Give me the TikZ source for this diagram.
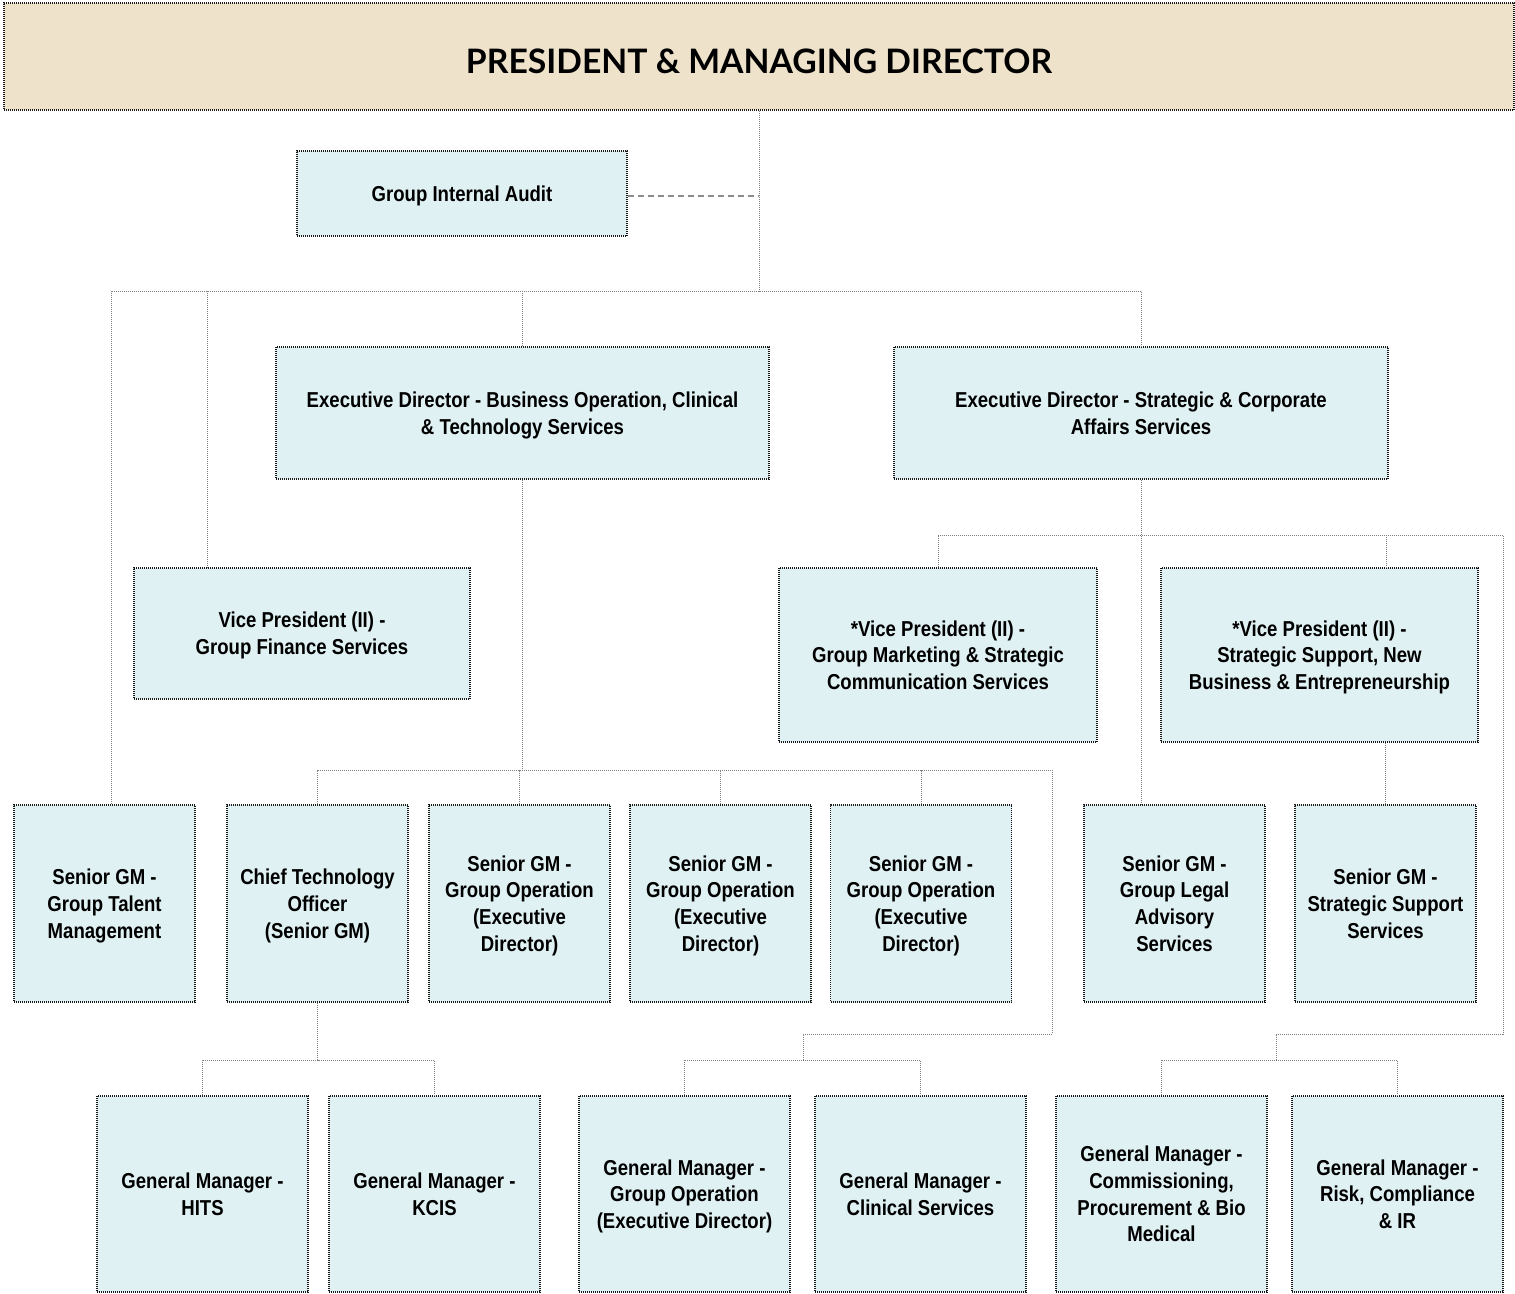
\documentclass[tikz,border=0pt]{standalone}
\usepackage{fontspec}
\setmainfont{Liberation Sans}[FakeStretch=0.86]
\newfontfamily\titlefont{Lato}
\definecolor{beigebg}{HTML}{EEE2CB}
\definecolor{cyanbg}{HTML}{E0F1F3}
\begin{document}
\begin{tikzpicture}[x=1pt,y=-1pt,line join=miter,
  box/.style={draw=black!90,fill=cyanbg,dash pattern=on 1pt off 1pt,line width=1.3pt,
    align=center,inner sep=0pt,text depth=-2pt,font=\fontsize{21.6}{26.7}\selectfont\bfseries},
  topbox/.style={box,fill=beigebg,text height=33pt,text depth=0pt,
    font=\titlefont\fontsize{33.7}{38}\selectfont\bfseries},
  rowthree/.style={box,minimum width=181,minimum height=197},
  rowfour/.style={box,minimum width=211,minimum height=196},
  conn/.style={draw=black!50,dash pattern=on 1pt off 1pt,line width=1pt},
  audline/.style={draw=black!45,dash pattern=on 6pt off 4pt,line width=1.3pt}]
  \useasboundingbox (0,0) rectangle (1515,1293);
  % top levels
  \node[topbox,minimum width=1510,minimum height=107] (pmd) at (759,56.5) {PRESIDENT \& MANAGING DIRECTOR};
  \node[box,minimum width=330,minimum height=85] (audit) at (462,193.5) {Group Internal Audit};
  \node[box,minimum width=493,minimum height=132] (edbo) at (522.5,413) {Executive Director - Business Operation, Clinical\\\& Technology Services};
  \node[box,minimum width=494,minimum height=132] (edsc) at (1141,413) {Executive Director - Strategic \& Corporate\\Affairs Services};
  \node[box,minimum width=336,minimum height=131] (vpfin) at (302,633.5) {Vice President (II) -\\Group Finance Services};
  \node[box,minimum width=318,minimum height=174] (vpmkt) at (938,655) {*Vice President (II) -\\Group Marketing \& Strategic\\Communication Services};
  \node[box,minimum width=317,minimum height=174] (vpstr) at (1319.5,655) {*Vice President (II) -\\Strategic Support, New\\Business \& Entrepreneurship};
  % senior GM row
  \node[rowthree] (talent) at (104.5,903.5) {Senior GM -\\Group Talent\\Management};
  \node[rowthree] (cto) at (317.5,903.5) {Chief Technology\\Officer\\(Senior GM)};
  \node[rowthree] (go1) at (519.5,903.5) {Senior GM -\\Group Operation\\(Executive\\Director)};
  \node[rowthree] (go2) at (720.5,903.5) {Senior GM -\\Group Operation\\(Executive\\Director)};
  \node[rowthree] (go3) at (921,903.5) {Senior GM -\\Group Operation\\(Executive\\Director)};
  \node[rowthree] (legal) at (1174.5,903.5) {Senior GM -\\Group Legal\\Advisory\\Services};
  \node[rowthree] (ss) at (1385.5,903.5) {Senior GM -\\Strategic Support\\Services};
  % general manager row
  \node[rowfour] (hits) at (202.5,1194) {General Manager -\\HITS};
  \node[rowfour] (kcis) at (434.5,1194) {General Manager -\\KCIS};
  \node[rowfour] (goed) at (684.5,1194) {General Manager -\\Group Operation\\(Executive Director)};
  \node[rowfour] (cs) at (920.5,1194) {General Manager -\\Clinical Services};
  \node[rowfour] (comm) at (1161.5,1194) {General Manager -\\Commissioning,\\Procurement \& Bio\\Medical};
  \node[rowfour] (risk) at (1397.5,1194) {General Manager -\\Risk, Compliance\\\& IR};
  % bus points
  \coordinate (busl) at (111,291);
  \coordinate (busf) at (207,291);
  \coordinate (busr) at (1141,291);
  \coordinate (bopl) at (318,770);
  \coordinate (bopr) at (1052,770);
  \coordinate (bopk) at (803,1034);
  \coordinate (scr) at (1503,535);
  \coordinate (scs) at (1386,535);
  \coordinate (sck) at (1276,1034);
  % connectors
  \draw[audline] ([yshift=-2.5pt]audit.east) -- ([yshift=-2.5pt]audit.east -| pmd.south);
  \draw[conn] (pmd.south) -- (pmd.south |- busl);
  \draw[conn] (busl |- talent.north) -- (busl) -- (busr) -- (edsc.north);
  \draw[conn] (busf) -- (busf |- vpfin.north);
  \draw[conn] (edbo.north) -- (edbo.north |- busl);
  \draw[conn] (edbo.south) -- (edbo.south |- bopl);
  \draw[conn] (bopl) -- (bopr) -- (bopr |- bopk) -- (bopk) -- (bopk |- 0,1060);
  \foreach \n in {cto,go1,go2,go3}
    \draw[conn] (\n.north) -- (\n.north |- bopl);
  \draw[conn] (goed.north) |- (bopk |- 0,1060) -| (cs.north);
  \draw[conn] (cto.south) -- (cto.south |- 0,1060);
  \draw[conn] (hits.north) |- (cto.south |- 0,1060) -| (kcis.north);
  \draw[conn] (edsc.south) -- (edsc.south |- legal.north);
  \draw[conn] (vpmkt.north) |- (scr) -- (scr |- sck) -- (sck) -- (sck |- 0,1060);
  \draw[conn] (scs) -- (scs |- vpstr.north);
  \draw[conn] (vpstr.south -| ss.north) -- (ss.north);
  \draw[conn] (comm.north) |- (sck |- 0,1060) -| (risk.north);
\end{tikzpicture}
\end{document}
